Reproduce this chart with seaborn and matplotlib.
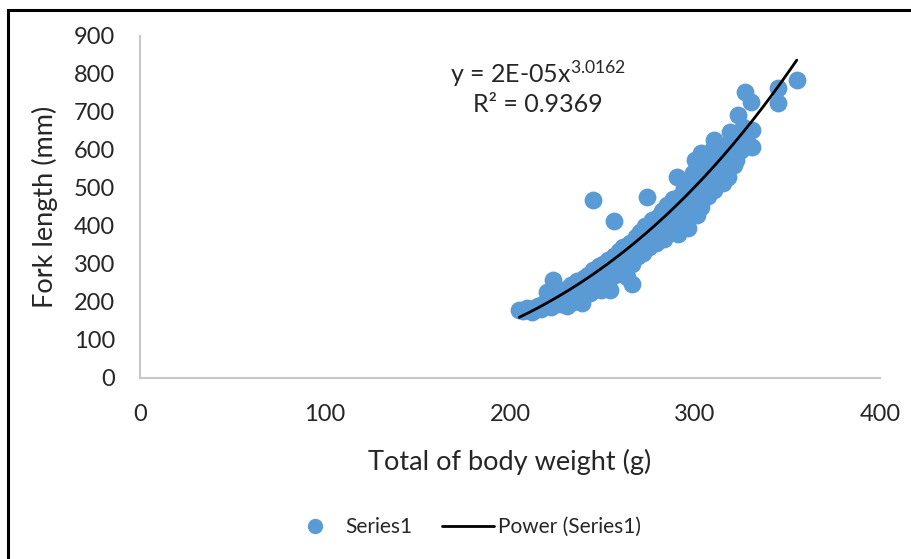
import numpy as np
import pandas as pd
import seaborn as sns
import matplotlib.pyplot as plt
from matplotlib.lines import Line2D
from matplotlib.patches import Rectangle

# body weight (g) and fork length (mm)
weight = [205, 207, 209, 212, 213, 215, 217, 218, 220, 220, 222, 223, 224, 226, 227, 228,
          229, 230, 231, 232, 233, 234, 235, 236, 237, 238, 239, 240, 241, 242, 243, 244,
          245, 245, 246, 247, 248, 249, 250, 251, 252, 253, 254, 255, 256, 256, 257, 258,
          259, 260, 261, 262, 263, 264, 265, 266, 266, 267, 268, 269, 270, 271, 272, 273,
          274, 274, 275, 276, 277, 278, 279, 280, 281, 282, 283, 284, 285, 286, 287, 288,
          289, 290, 290, 291, 292, 293, 294, 295, 296, 297, 298, 299, 300, 300, 301, 302,
          303, 303, 304, 305, 306, 307, 308, 309, 310, 310, 311, 312, 313, 314, 315, 316,
          317, 318, 319, 320, 321, 322, 323, 324, 325, 326, 327, 328, 330, 331, 331, 345,
          345, 355]
fork_length = [180, 176, 183, 174, 185, 190, 182, 195, 205, 226, 188, 258, 200, 210, 195, 220,
               205, 235, 190, 215, 245, 200, 228, 255, 210, 240, 198, 262, 225, 270, 224, 250,
               468, 285, 240, 260, 295, 232, 300, 275, 250, 310, 232, 290, 413, 320, 270, 300,
               335, 285, 345, 310, 265, 330, 355, 247, 300, 340, 370, 320, 385, 350, 330, 400,
               476, 365, 345, 395, 415, 370, 355, 425, 390, 440, 365, 410, 455, 385, 430, 470,
               400, 529, 445, 380, 480, 420, 500, 455, 395, 515, 470, 540, 574, 490, 430, 520,
               592, 450, 550, 505, 570, 480, 540, 600, 626, 495, 560, 520, 590, 545, 513, 610,
               575, 530, 647, 600, 560, 574, 692, 630, 600, 660, 753, 620, 726, 653, 608, 763,
               724, 784]

# power trendline y = a * x^b
coef_a = 1.7e-05
exp_b = 3.0162
eq_text = 'y = 2E-05x$^{3.0162}$'
r2_text = 'R² = 0.9369'

x_ticks = [0, 100, 200, 300, 400]
y_ticks = [0, 100, 200, 300, 400, 500, 600, 700, 800, 900]

df = pd.DataFrame({'weight': weight, 'fork': fork_length})
xs = np.linspace(min(weight), max(weight), 200)
trend = pd.DataFrame({'weight': xs, 'fork': coef_a * xs ** exp_b})

sns.set_theme(style='white')
plt.rcParams['font.family'] = ['Lato', 'DejaVu Sans']
plt.rcParams['mathtext.default'] = 'regular'

blue = '#5B9BD5'
txt = '#262626'

fig = plt.figure(figsize=(9.11, 5.59), dpi=100)
ax = fig.add_axes([140 / 911, 1 - 378 / 559, 740 / 911, 342 / 559])

sns.scatterplot(data=df, x='weight', y='fork', ax=ax, color=blue, s=165,
                edgecolor=blue, linewidth=0, zorder=2)
sns.lineplot(data=trend, x='weight', y='fork', ax=ax, color='black', linewidth=2,
             zorder=3)

ax.set_xlim(0, 400)
ax.set_ylim(0, 900)
ax.set_xticks(x_ticks)
ax.set_yticks(y_ticks)
ax.tick_params(axis='both', length=0, labelsize=17, labelcolor=txt)
ax.tick_params(axis='x', pad=19)
ax.tick_params(axis='y', pad=18)
for s in ['top', 'right']:
    ax.spines[s].set_visible(False)
for s in ['left', 'bottom']:
    ax.spines[s].set_color('#C8C8C8')
    ax.spines[s].set_linewidth(1.5)

ax.set_xlabel('Total of body weight (g)', fontsize=19.5, color=txt, va='center')
ax.xaxis.set_label_coords(0.5, (378 - 462) / 342)
ax.set_ylabel('Fork length (mm)', fontsize=19.5, color=txt, va='center')
ax.yaxis.set_label_coords((45 - 140) / 740, 0.5)

ax.text(215, 800, eq_text, fontsize=18, color=txt, ha='center', va='center')
ax.text(215, 721, r2_text, fontsize=18, color=txt, ha='center', va='center')

handles = [Line2D([], [], marker='o', linestyle='none', markersize=10,
                  markerfacecolor=blue, markeredgecolor=blue),
           Line2D([], [], color='black', linewidth=2)]
fig.legend(handles, ['Series1', 'Power (Series1)'], loc='center',
           bbox_to_anchor=(465 / 911, 1 - 527 / 559), ncol=2, frameon=False,
           fontsize=15, handlelength=2.5, columnspacing=1.4, handletextpad=0.2,
           labelcolor=txt)

# outer chart frame (only top and left are visible in the crop)
fig.patches.append(Rectangle((8 / 911, -0.1), 1.2, 1 - 10 / 559 + 0.1,
                             transform=fig.transFigure, fill=False,
                             edgecolor='black', linewidth=2.2))

fig.savefig('out.png', dpi=100)
